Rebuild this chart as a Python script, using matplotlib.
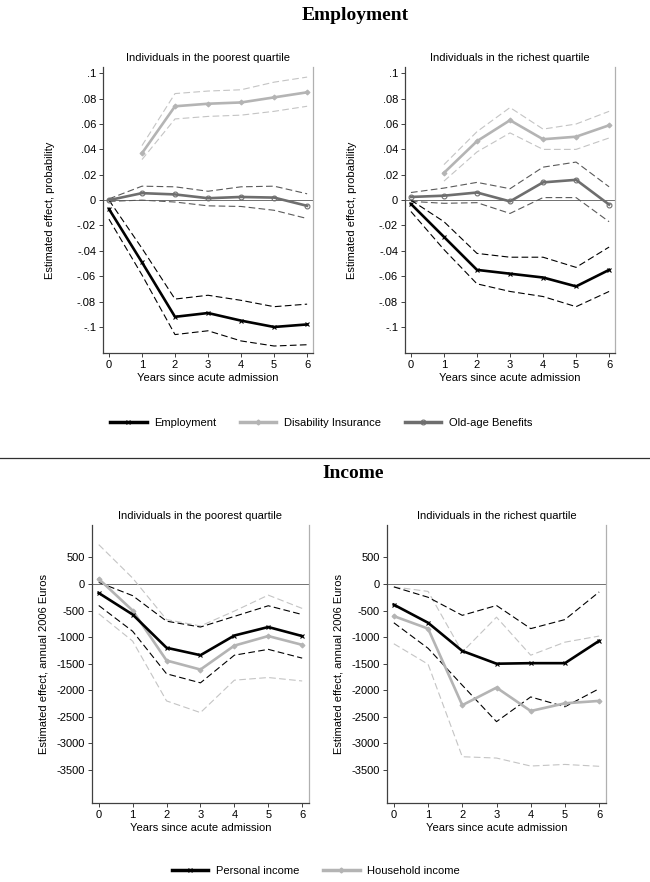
import matplotlib
matplotlib.use('Agg')
import matplotlib.pyplot as plt
from matplotlib.lines import Line2D

plt.rcParams['font.family'] = ['Liberation Sans', 'DejaVu Sans']
plt.rcParams['axes.unicode_minus'] = False

years = [0, 1, 2, 3, 4, 5, 6]
years_di = [1, 2, 3, 4, 5, 6]

# Employment, poorest quartile
emp_poor = [-0.007, -0.049, -0.092, -0.089, -0.095, -0.100, -0.098]
emp_poor_hi = [0.000, -0.038, -0.078, -0.075, -0.079, -0.084, -0.082]
emp_poor_lo = [-0.015, -0.059, -0.106, -0.103, -0.111, -0.115, -0.114]
di_poor = [0.037, 0.074, 0.076, 0.077, 0.081, 0.085]
di_poor_hi = [0.043, 0.084, 0.086, 0.087, 0.093, 0.097]
di_poor_lo = [0.032, 0.064, 0.066, 0.067, 0.070, 0.074]
old_poor = [0.000, 0.0055, 0.0045, 0.0015, 0.0025, 0.002, -0.0045]
old_poor_hi = [0.001, 0.011, 0.0105, 0.007, 0.0105, 0.011, 0.005]
old_poor_lo = [-0.001, 0.000, -0.0015, -0.0045, -0.005, -0.008, -0.0145]

# Employment, richest quartile
emp_rich = [-0.003, -0.029, -0.055, -0.058, -0.061, -0.068, -0.055]
emp_rich_hi = [0.000, -0.017, -0.042, -0.045, -0.045, -0.053, -0.037]
emp_rich_lo = [-0.009, -0.039, -0.066, -0.072, -0.076, -0.084, -0.072]
di_rich = [0.0215, 0.0465, 0.063, 0.048, 0.050, 0.059]
di_rich_hi = [0.028, 0.054, 0.073, 0.056, 0.060, 0.070]
di_rich_lo = [0.015, 0.038, 0.053, 0.040, 0.040, 0.049]
old_rich = [0.0025, 0.0035, 0.006, -0.001, 0.014, 0.016, -0.0035]
old_rich_hi = [0.006, 0.0095, 0.014, 0.009, 0.026, 0.030, 0.0105]
old_rich_lo = [-0.001, -0.0025, -0.002, -0.0105, 0.002, 0.002, -0.017]

# Income, poorest quartile
pers_poor = [-170, -575, -1200, -1340, -970, -810, -980]
pers_poor_hi = [30, -220, -700, -810, -610, -410, -575]
pers_poor_lo = [-405, -890, -1690, -1860, -1340, -1230, -1395]
hh_poor = [95, -500, -1440, -1610, -1160, -980, -1145]
hh_poor_hi = [740, 110, -670, -790, -510, -210, -460]
hh_poor_lo = [-560, -1075, -2200, -2420, -1810, -1760, -1825]

# Income, richest quartile
pers_rich = [-390, -730, -1260, -1500, -1490, -1490, -1070]
pers_rich_hi = [-55, -250, -590, -405, -840, -670, -150]
pers_rich_lo = [-730, -1210, -1905, -2590, -2125, -2310, -1970]
hh_rich = [-605, -840, -2280, -1950, -2390, -2245, -2200]
hh_rich_hi = [-55, -140, -1280, -625, -1340, -1095, -980]
hh_rich_lo = [-1125, -1510, -3250, -3275, -3425, -3395, -3430]

emp_ticks = [-0.1, -0.08, -0.06, -0.04, -0.02, 0, 0.02, 0.04, 0.06, 0.08, 0.1]
emp_ticklabels = ['-.1', '-.08', '-.06', '-.04', '-.02', '0', '.02', '.04', '.06', '.08', '.1']
inc_ticks = [-3500, -3000, -2500, -2000, -1500, -1000, -500, 0, 500]

BLACK = '#000000'
LIGHT = '#b4b4b4'
LIGHT_CI = '#c4c4c4'
DARK = '#6e6e6e'
DARK_CI = '#5a5a5a'
FS = 8
DASH = (0, (6, 3))


def style_axes(ax, title, ylabel, ypad):
    ax.set_title(title, fontsize=FS, pad=4)
    ax.set_ylabel(ylabel, fontsize=FS, labelpad=ypad)
    ax.set_xlabel('Years since acute admission', fontsize=FS, labelpad=2)
    ax.set_xticks(years)
    ax.set_xlim(-0.18, 6.18)
    ax.axhline(0, color='#707070', lw=0.7, zorder=1)
    ax.spines['top'].set_visible(False)
    ax.spines['left'].set_color('#404040')
    ax.spines['bottom'].set_color('#404040')
    ax.spines['right'].set_color('#b0b0b0')
    for s in ['left', 'bottom', 'right']:
        ax.spines[s].set_linewidth(0.9)
    ax.tick_params(labelsize=FS, length=3, width=0.7, pad=2, color='#404040')


def draw_series(ax, x, y, lo, hi, color, ci_color, marker, ms, mfc):
    ax.plot(x, hi, color=ci_color, lw=0.8, linestyle=DASH, zorder=2)
    ax.plot(x, lo, color=ci_color, lw=0.8, linestyle=DASH, zorder=2)
    ax.plot(x, y, color=color, lw=1.9, marker=marker, markersize=ms,
            markerfacecolor=mfc, markeredgecolor=color, markeredgewidth=0.8, zorder=3)


fig = plt.figure(figsize=(6.5, 8.82), dpi=100)

fig.text(0.546, 0.982, 'Employment', ha='center', va='center', fontsize=14,
         fontweight='bold', family=['Liberation Serif', 'DejaVu Serif'])
fig.text(0.543, 0.4630, 'Income', ha='center', va='center', fontsize=14,
         fontweight='bold', family=['Liberation Serif', 'DejaVu Serif'])
fig.add_artist(Line2D([0, 1], [0.4807, 0.4807], color='#303030', lw=0.9, transform=fig.transFigure))

emp_panels = [
    ([0.1585, 0.5998, 0.3231, 0.3243], 'Individuals in the poorest quartile',
     emp_poor, emp_poor_lo, emp_poor_hi, di_poor, di_poor_lo, di_poor_hi,
     old_poor, old_poor_lo, old_poor_hi),
    ([0.6231, 0.5998, 0.3231, 0.3243], 'Individuals in the richest quartile',
     emp_rich, emp_rich_lo, emp_rich_hi, di_rich, di_rich_lo, di_rich_hi,
     old_rich, old_rich_lo, old_rich_hi),
]

for rect, title, e, elo, ehi, d, dlo, dhi, o, olo, ohi in emp_panels:
    ax = fig.add_axes(rect)
    style_axes(ax, title, 'Estimated effect, probability', 16)
    draw_series(ax, years_di, d, dlo, dhi, LIGHT, LIGHT_CI, 'D', 2.5, LIGHT)
    draw_series(ax, years, o, olo, ohi, DARK, DARK_CI, 'o', 3.5, 'none')
    draw_series(ax, years, e, elo, ehi, BLACK, BLACK, 'x', 3.5, BLACK)
    ax.set_yticks(emp_ticks)
    ax.set_yticklabels(emp_ticklabels)
    ax.set_ylim(-0.1205, 0.105)

inc_panels = [
    ([0.1415, 0.0896, 0.3338, 0.3152], 'Individuals in the poorest quartile',
     pers_poor, pers_poor_lo, pers_poor_hi, hh_poor, hh_poor_lo, hh_poor_hi),
    ([0.5954, 0.0896, 0.3369, 0.3152], 'Individuals in the richest quartile',
     pers_rich, pers_rich_lo, pers_rich_hi, hh_rich, hh_rich_lo, hh_rich_hi),
]

for rect, title, p, plo, phi, h, hlo, hhi in inc_panels:
    ax = fig.add_axes(rect)
    style_axes(ax, title, 'Estimated effect, annual 2006 Euros', 6)
    draw_series(ax, years, h, hlo, hhi, LIGHT, LIGHT_CI, 'D', 2.5, LIGHT)
    draw_series(ax, years, p, plo, phi, BLACK, BLACK, 'x', 3.5, BLACK)
    ax.set_yticks(inc_ticks)
    ax.set_ylim(-4120, 1110)
    ax.set_xlim(-0.2, 6.2)

# legends
emp_handles = [
    Line2D([], [], color=BLACK, lw=2.5, marker='x', ms=3.5, mew=0.8),
    Line2D([], [], color=LIGHT, lw=2.5, marker='D', ms=2.5),
    Line2D([], [], color=DARK, lw=2.5, marker='o', ms=3.5, mfc='none', mew=0.8),
]
fig.legend(emp_handles, ['Employment', 'Disability Insurance', 'Old-age Benefits'],
           loc='center', bbox_to_anchor=(0.494, 0.5204), ncol=3, frameon=False,
           fontsize=FS, handlelength=3.3, handletextpad=0.7, columnspacing=2.1)

inc_handles = [
    Line2D([], [], color=BLACK, lw=2.5, marker='x', ms=3.5, mew=0.8),
    Line2D([], [], color=LIGHT, lw=2.5, marker='D', ms=2.5),
]
fig.legend(inc_handles, ['Personal income', 'Household income'],
           loc='center', bbox_to_anchor=(0.486, 0.0125), ncol=2, frameon=False,
           fontsize=FS, handlelength=3.3, handletextpad=0.7, columnspacing=2.1)

fig.savefig('out.png', dpi=100, facecolor='w')
